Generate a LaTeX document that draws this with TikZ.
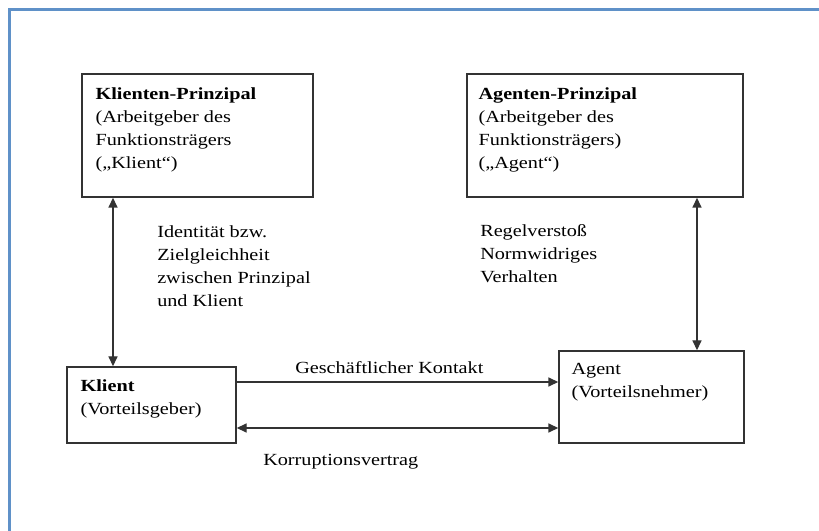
\documentclass[tikz,border=0pt]{standalone}
\usepackage{fontspec}
\setmainfont[FakeStretch=1.19]{Liberation Serif}
\usepackage{tikz}
\usetikzlibrary{arrows.meta}
\usetikzlibrary{positioning}
\usetikzlibrary{calc}

\begin{document}
\begin{tikzpicture}[x=0.75pt,y=-0.75pt,>={Triangle[length=7.5pt,width=6.8pt]}]
\tikzstyle{box}=[draw=black!80,line width=1.1pt,rectangle,inner sep=0pt]
\tikzstyle{txt}=[anchor=base west,align=left,inner sep=0pt,font=\fontsize{12.75}{17.25}\selectfont]
\tikzstyle{conn}=[draw=black!80,line width=1.1pt]
\definecolor{framblue}{RGB}{95,145,200}
\useasboundingbox (0,0) rectangle (819,531);
% outer frame
\draw[framblue,line width=1.6pt] (9.5,531) -- (9.5,9.5) -- (819,9.5);

    \node [box,minimum width=231*0.75pt,minimum height=123*0.75pt] (kp) at (197.5,135.5) {};
    \node [box,minimum width=276*0.75pt,minimum height=123*0.75pt] (ap) at (605,135.5) {};
    \node [box,minimum width=169*0.75pt,minimum height=76*0.75pt] (kl) at (151.5,405) {};
    \node [box,minimum width=185*0.75pt,minimum height=92*0.75pt] (ag) at (651.5,397) {};

% base of a multi-line node = baseline of its last line
    \node [txt] (kptext) at ($(kp.north west)+(14,95)$) {\textbf{Klienten-Prinzipal}\\(Arbeitgeber des\\Funktionsträgers\\(„Klient“)};
    \node [txt] (aptext) at ($(ap.north west)+(12,95)$) {\textbf{Agenten-Prinzipal}\\(Arbeitgeber des\\Funktionsträgers)\\(„Agent“)};
    \node [txt] (kltext) at ($(kl.north west)+(14,48)$) {\textbf{Klient}\\(Vorteilsgeber)};
    \node [txt] (agtext) at ($(ag.north west)+(13,47)$) {Agent\\(Vorteilsnehmer)};

\coordinate (L) at (113,0);
\coordinate (R) at (697,0);
\coordinate (T) at (0,382);
\coordinate (B) at (0,428);

\draw[conn,<->] (kp.south -| L) -- (kl.north -| L);
\draw[conn,<->] (ap.south -| R) -- (ag.north -| R);
\draw[conn,->] (kl.east |- T) -- (ag.west |- T);
\draw[conn,<->] (kl.east |- B) -- (ag.west |- B);

    \node [txt] (ident) at (157,307) {Identität bzw.\\Zielgleichheit\\zwischen Prinzipal\\und Klient};
    \node [txt] (regel) at (480,283) {Regelverstoß\\Normwidriges\\Verhalten};
    \node [txt] (kontakt) at (295,374) {Geschäftlicher Kontakt};
\begin{scope}
\clip (200,440) rectangle (600,468.5);
    \node [txt] (vertrag) at (263,466) {Korruptionsvertrag};
\end{scope}
\end{tikzpicture}
\end{document}
